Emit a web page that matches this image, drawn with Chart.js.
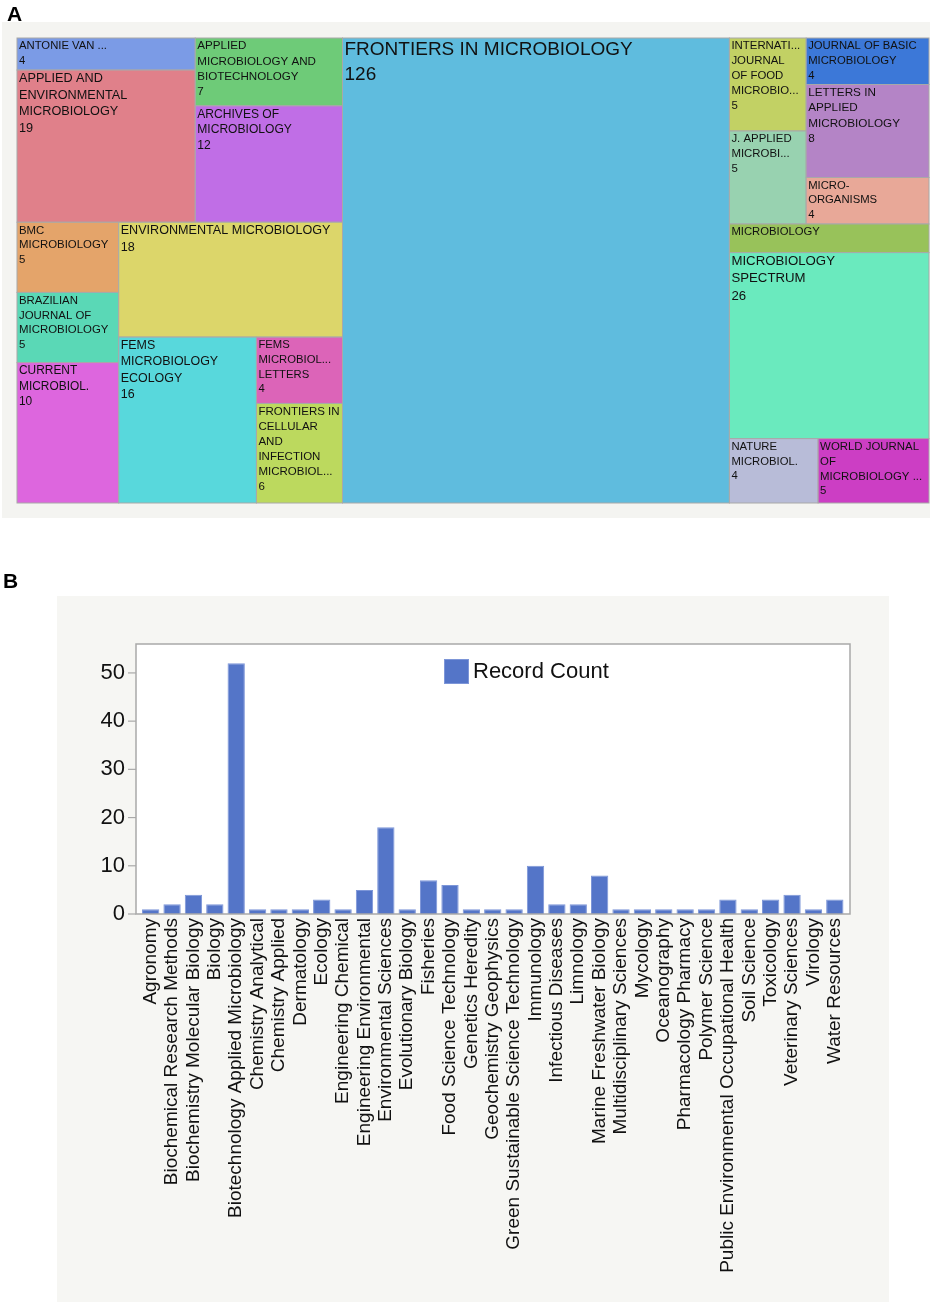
<!DOCTYPE html>
<html>
<head>
<meta charset="utf-8">
<script src="https://cdn.jsdelivr.net/npm/chart.js@4.4.1/dist/chart.umd.min.js"></script>
<style>
    body { margin: 0; background: #ffffff; width: 935px; height: 1305px; position: relative; overflow: hidden; font-family: "Liberation Sans", Arial, sans-serif; }
    .panel-label { position: absolute; font-weight: bold; font-size: 21px; color: #000; }
    #wrapA { position: absolute; left: 0; top: 0; width: 935px; height: 520px; }
    #wrapB { position: absolute; left: 0; top: 520px; width: 935px; height: 785px; }
</style>
</head>
<body>
<div id="wrapA"><canvas id="treemapChart" width="935" height="520"></canvas></div>
<div id="wrapB"><canvas id="barChart" width="935" height="785"></canvas></div>
<div class="panel-label" style="left:7px; top:2px;">A</div>
<div class="panel-label" style="left:3px; top:569px;">B</div>
<script>
// ---- Panel A data: journals (label lines as shown in the cells) and record counts
const journalLabels = [
    ["ANTONIE VAN ..."],
    ["APPLIED AND", "ENVIRONMENTAL", "MICROBIOLOGY"],
    ["APPLIED", "MICROBIOLOGY AND", "BIOTECHNOLOGY"],
    ["ARCHIVES OF", "MICROBIOLOGY"],
    ["BMC", "MICROBIOLOGY"],
    ["BRAZILIAN", "JOURNAL OF", "MICROBIOLOGY"],
    ["CURRENT", "MICROBIOL."],
    ["ENVIRONMENTAL MICROBIOLOGY"],
    ["FEMS", "MICROBIOLOGY", "ECOLOGY"],
    ["FEMS", "MICROBIOL...", "LETTERS"],
    ["FRONTIERS IN", "CELLULAR", "AND", "INFECTION", "MICROBIOL..."],
    ["FRONTIERS IN MICROBIOLOGY"],
    ["INTERNATI...", "JOURNAL", "OF FOOD", "MICROBIO..."],
    ["J. APPLIED", "MICROBI..."],
    ["JOURNAL OF BASIC", "MICROBIOLOGY"],
    ["LETTERS IN", "APPLIED", "MICROBIOLOGY"],
    ["MICRO-", "ORGANISMS"],
    ["MICROBIOLOGY"],
    ["MICROBIOLOGY", "SPECTRUM"],
    ["NATURE", "MICROBIOL."],
    ["WORLD JOURNAL", "OF", "MICROBIOLOGY ..."]
];
const journalCounts = [4, 19, 7, 12, 5, 5, 10, 18, 16, 4, 6, 126, 5, 5, 4, 8, 4, 4, 26, 4, 5];

const journalColors = [
    "#7b9be6", "#e0808a", "#6ecb78", "#c06ee6", "#e4a46a", "#5ad8b6", "#dd66de",
    "#dcd66a", "#58d8dc", "#dc64b8", "#bcd95e", "#5fbcde", "#c2d164", "#98d2b0",
    "#3c78d8", "#b484c6", "#e8a898", "#98c25a", "#6aeabe", "#b8bcd8", "#cc3ec4"
];

// nesting of the treemap: 'h' splits left->right, 'v' splits top->bottom (leaf = journal index)
const treemapNesting = ["h", [
    ["v", [
        ["h", [["v", [0, 1]], ["v", [2, 3]]]],
        ["h", [["v", [4, 5, 6]], ["v", [7, ["h", [8, ["v", [9, 10]]]]]]]]
    ]],
    11,
    ["v", [
        ["h", [["v", [12, 13]], ["v", [14, 15, 16]]]],
        17,
        18,
        ["h", [19, 20]]
    ]]
]];

// ---- Panel B data: Web of Science categories
const subjectAreas = [
    "Agronomy", "Biochemical Research Methods", "Biochemistry Molecular Biology", "Biology",
    "Biotechnology Applied Microbiology", "Chemistry Analytical", "Chemistry Applied", "Dermatology",
    "Ecology", "Engineering Chemical", "Engineering Environmental", "Environmental Sciences",
    "Evolutionary Biology", "Fisheries", "Food Science Technology", "Genetics Heredity",
    "Geochemistry Geophysics", "Green Sustainable Science Technology", "Immunology", "Infectious Diseases",
    "Limnology", "Marine Freshwater Biology", "Multidisciplinary Sciences", "Mycology",
    "Oceanography", "Pharmacology Pharmacy", "Polymer Science", "Public Environmental Occupational Health",
    "Soil Science", "Toxicology", "Veterinary Sciences", "Virology", "Water Resources"
];
const recordCounts = [1, 2, 4, 2, 52, 1, 1, 1, 3, 1, 5, 18, 1, 7, 6, 1, 1, 1, 10, 2, 2, 8, 1, 1, 1, 1, 1, 3, 1, 3, 4, 1, 3];
const yTickValues = [0, 10, 20, 30, 40, 50];

const FONT = '"Liberation Sans", Arial, Helvetica, sans-serif';
Chart.defaults.font.family = FONT;

// sum of counts under a node
function nodeTotal(node) {
    if (typeof node === "number") return journalCounts[node];
    return node[1].reduce((s, child) => s + nodeTotal(child), 0);
}

// slice the unit square by counts, following the nesting
function sliceNode(node, x0, y0, x1, y1, out) {
    if (typeof node === "number") {
        out.push({ index: node, x0, y0, x1, y1 });
        return;
    }
    const [dir, kids] = node;
    const total = nodeTotal(node);
    let acc = 0;
    kids.forEach(child => {
        const a = acc / total;
        acc += nodeTotal(child);
        const b = acc / total;
        if (dir === "h") sliceNode(child, x0 + (x1 - x0) * a, y0, x0 + (x1 - x0) * b, y1, out);
        else sliceNode(child, x0, y0 + (y1 - y0) * a, x1, y0 + (y1 - y0) * b, out);
    });
}

const treemapCells = [];
sliceNode(treemapNesting, 0, 0, 1, 1, treemapCells);

const treemapPlugin = {
    id: "treemapCells",
    beforeDraw(chart) {
        const ctx = chart.ctx;
        ctx.save();
        ctx.fillStyle = "#ffffff";
        ctx.fillRect(0, 0, chart.width, chart.height);
        ctx.fillStyle = "#f4f4f1";
        ctx.fillRect(2, 22, 928, 496);
        ctx.restore();
    },
    afterDatasetsDraw(chart) {
        const ctx = chart.ctx;
        const xs = chart.scales.x, ys = chart.scales.y;
        treemapCells.forEach(cell => {
            const left = xs.getPixelForValue(cell.x0), right = xs.getPixelForValue(cell.x1);
            const top = ys.getPixelForValue(cell.y0), bottom = ys.getPixelForValue(cell.y1);
            ctx.save();
            ctx.fillStyle = journalColors[cell.index];
            ctx.fillRect(left, top, right - left, bottom - top);
            ctx.strokeStyle = "#a8a8a8";
            ctx.lineWidth = 1;
            ctx.strokeRect(left, top, right - left, bottom - top);

            // label + count, font grows with the count
            const count = journalCounts[cell.index];
            const lines = journalLabels[cell.index].concat([String(count)]);
            let size = 10.67 + 0.2215 * Math.pow(count, 0.75);
            ctx.font = size + "px " + FONT;
            const widest = Math.max(...lines.map(l => ctx.measureText(l).width));
            if (widest > right - left - 4) size = size * (right - left - 4) / widest;
            ctx.font = size + "px " + FONT;
            const lineH = size * 1.3;
            ctx.beginPath();
            ctx.rect(left, top, right - left, bottom - top);
            ctx.clip();
            ctx.fillStyle = "#111111";
            ctx.textBaseline = "alphabetic";
            for (let i = 0; i < lines.length; i++) {
                const base = top + 3 + 0.73 * size + i * lineH;
                if (base + 0.3 * size > bottom) break;
                ctx.fillText(lines[i], left + 2, base);
            }
            ctx.restore();
        });
    }
};

new Chart(document.getElementById("treemapChart"), {
    type: "scatter",
    data: { datasets: [] },
    options: {
        responsive: false,
        animation: false,
        layout: { padding: { left: 17, right: 6, top: 38, bottom: 17 } },
        plugins: { legend: { display: false }, tooltip: { enabled: false } },
        scales: {
            x: { type: "linear", min: 0, max: 1, display: false },
            y: { type: "linear", min: 0, max: 1, reverse: true, display: false }
        }
    },
    plugins: [treemapPlugin]
});

// ---- Panel B
const barFill = "#5475c8";
const barEdge = "#7d96d8";

const frameAndLegend = {
    id: "frameAndLegend",
    beforeDraw(chart) {
        const ctx = chart.ctx, area = chart.chartArea;
        ctx.save();
        ctx.fillStyle = "#ffffff";
        ctx.fillRect(0, 0, chart.width, chart.height);
        ctx.fillStyle = "#f6f6f3";
        ctx.fillRect(57, 76, 832, 706);
        // white plot box with grey frame, a little wider than the bar band
        ctx.fillStyle = "#ffffff";
        ctx.fillRect(area.left - 4, area.top, area.width + 8.5, area.height);
        ctx.restore();
    },
    afterDraw(chart) {
        const ctx = chart.ctx, area = chart.chartArea, ys = chart.scales.y;
        ctx.save();
        ctx.strokeStyle = "#a9a9a9";
        ctx.lineWidth = 1.5;
        ctx.strokeRect(area.left - 4, area.top, area.width + 8.5, area.height);
        // y tick marks on the frame
        ctx.lineWidth = 1.2;
        yTickValues.forEach(v => {
            const y = ys.getPixelForValue(v);
            ctx.beginPath();
            ctx.moveTo(area.left - 12, y);
            ctx.lineTo(area.left - 4, y);
            ctx.stroke();
        });
        // legend inside the plot
        const ds = chart.data.datasets[0];
        const lx = area.left + 304, ly = area.top + 15;
        ctx.fillStyle = ds.backgroundColor;
        ctx.fillRect(lx, ly, 25, 25);
        ctx.strokeStyle = ds.borderColor;
        ctx.lineWidth = 1;
        ctx.strokeRect(lx + 0.5, ly + 0.5, 24, 24);
        ctx.fillStyle = "#111111";
        ctx.font = "22px " + FONT;
        ctx.textBaseline = "middle";
        ctx.fillText(ds.label, lx + 29, ly + 13);
        ctx.restore();
    }
};

new Chart(document.getElementById("barChart"), {
    type: "bar",
    data: {
        labels: subjectAreas,
        datasets: [{
            label: "Record Count",
            data: recordCounts,
            backgroundColor: barFill,
            borderColor: barEdge,
            borderWidth: 1,
            categoryPercentage: 1,
            barPercentage: 0.81
        }]
    },
    options: {
        responsive: false,
        animation: false,
        layout: { padding: { left: 0, right: 89.5, top: 124, bottom: 0 } },
        plugins: { legend: { display: false }, tooltip: { enabled: false } },
        scales: {
            x: {
                grid: { display: false, drawTicks: false },
                border: { display: false },
                ticks: {
                    autoSkip: false, minRotation: 90, maxRotation: 90, padding: 4,
                    color: "#111111", font: { size: 19 }
                },
                afterFit: scale => { scale.height = 391; }
            },
            y: {
                min: 0, max: 56, bounds: "data",
                grid: { display: false, drawTicks: false },
                border: { display: false },
                ticks: {
                    stepSize: 10, padding: 15, color: "#111111", font: { size: 22 },
                    callback: v => (yTickValues.includes(v) ? v : "")
                },
                afterFit: scale => { scale.width = 140; }
            }
        }
    },
    plugins: [frameAndLegend]
});
</script>
</body>
</html>
